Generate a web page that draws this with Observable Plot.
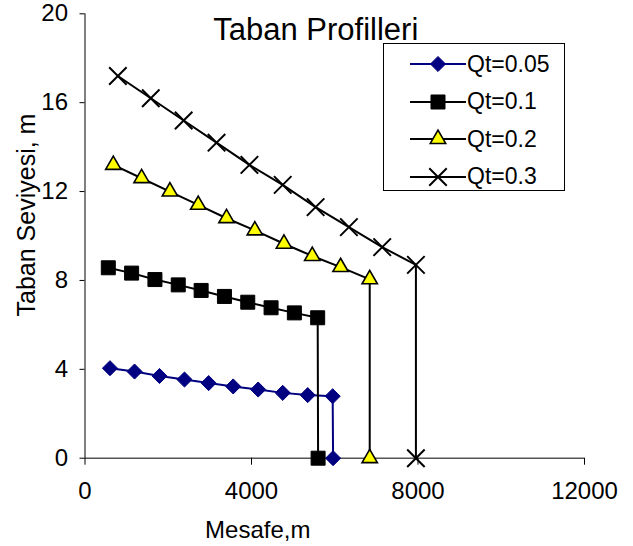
<!DOCTYPE html>
<html><head><meta charset="utf-8">
<script src="https://cdn.jsdelivr.net/npm/d3@7"></script>
<script src="https://cdn.jsdelivr.net/npm/@observablehq/plot@0.6"></script>
<style>
html,body{margin:0;padding:0;background:#fff;}
#wrap{position:relative;width:633px;height:546px;font-family:"Liberation Sans",Arial,sans-serif;}
#legend{position:absolute;left:383px;top:43px;width:182px;height:148px;border:1px solid #000;background:#fff;box-sizing:border-box;}
.row{position:absolute;left:0;height:30px;display:flex;align-items:center;}
.row span{font-size:23px;color:#000;margin-left:1px;}
</style></head><body><div id="wrap"></div>
<script>
// Data
const seriesNames = ["Qt=0.05", "Qt=0.1", "Qt=0.2", "Qt=0.3"];
const x005 = [600, 1190, 1790, 2390, 2970, 3560, 4160, 4750, 5350, 5950, 5960];
const y005 = [4.05, 3.9, 3.7, 3.54, 3.38, 3.23, 3.09, 2.94, 2.84, 2.79, 0];
const x01 = [560, 1120, 1680, 2240, 2790, 3350, 3910, 4470, 5030, 5590, 5600];
const y01 = [8.57, 8.33, 8.04, 7.8, 7.55, 7.28, 7.02, 6.77, 6.54, 6.32, 0];
const x02 = [680, 1360, 2040, 2720, 3400, 4080, 4780, 5460, 6140, 6840, 6840];
const y02 = [13.2, 12.6, 12.0, 11.4, 10.8, 10.25, 9.65, 9.1, 8.6, 8.05, 0];
const x03 = [790, 1580, 2370, 3160, 3950, 4750, 5540, 6340, 7140, 7950, 7950];
const y03 = [17.2, 16.2, 15.2, 14.2, 13.2, 12.3, 11.3, 10.4, 9.5, 8.7, 0];
const xTicks = [0, 4000, 8000, 12000];
const yTicks = [0, 4, 8, 12, 16, 20];
const titleText = "Taban Profilleri";
const xLabel = "Mesafe,m";
const yLabel = "Taban Seviyesi, m";

// Styles
const lineColors = ["#000080", "#000", "#000", "#000"];
const markFill = ["#000080", "#000", "#ffff00", "none"];
const markStroke = ["#000080", "#000", "#000", "#000"];
const symbols = ["diamond2", "square", "triangle", "times"];
const radii = [6.8, 7.9, 5.7, 8];
const markStrokeW = [1, 1, 1.6, 2];

const xs = [x005, x01, x02, x03];
const ys = [y005, y01, y02, y03];
const table = seriesNames.map((s, i) => xs[i].map((x, j) => ({series: s, x, y: ys[i][j]})));

const marks = [
  Plot.ruleY([0], {stroke: "#555", strokeWidth: 1.5}),
  Plot.ruleX([0], {stroke: "#000", strokeWidth: 1}),
  Plot.axisX({ticks: xTicks, tickSize: 7, tickPadding: 17, tickFormat: d => String(d), label: null, fontSize: 24}),
  Plot.axisY({ticks: yTicks, tickSize: 5, tickPadding: 12, tickFormat: d => String(d), label: null, fontSize: 24}),
];
table.forEach((data, i) => {
  marks.push(Plot.line(data, {x: "x", y: "y", stroke: lineColors[i], strokeWidth: 2}));
  marks.push(Plot.dot(data, {x: "x", y: "y", symbol: () => symbols[i], r: radii[i], fill: markFill[i], stroke: markStroke[i], strokeWidth: markStrokeW[i]}));
});
marks.push(Plot.text([titleText], {frameAnchor: "top", dx: -19, dy: 16, lineAnchor: "middle", textAnchor: "middle", fontSize: 31, fill: "#000"}));
marks.push(Plot.text([xLabel], {frameAnchor: "bottom", dx: -77, dy: 72, lineAnchor: "middle", textAnchor: "middle", fontSize: 24, fill: "#000"}));
marks.push(Plot.text([yLabel], {frameAnchor: "left", rotate: -90, dx: -58, dy: -21, lineAnchor: "middle", textAnchor: "middle", fontSize: 25, fill: "#000"}));

const chart = Plot.plot({
  width: 633,
  height: 546,
  marginLeft: 84.5,
  marginRight: 49,
  marginTop: 13.3,
  marginBottom: 88.3,
  x: {domain: [0, 12000]},
  y: {domain: [0, 20]},
  style: {fontFamily: "'Liberation Sans', Arial, sans-serif", fontSize: "24px", color: "#000", background: "#fff"},
  marks
});
const wrap = document.getElementById("wrap");
wrap.appendChild(chart);

// Legend
const legend = document.createElement("div");
legend.id = "legend";
const rowTops = [20, 57.5, 95, 132.5];
const symMap = {diamond2: d3.symbolDiamond2, square: d3.symbolSquare, triangle: d3.symbolTriangle, times: d3.symbolTimes};
seriesNames.forEach((name, i) => {
  const row = document.createElement("div");
  row.className = "row";
  row.style.top = (rowTops[i] - 15) + "px";
  const size = Math.PI * radii[i] * radii[i];
  const path = d3.symbol(symMap[symbols[i]], size)();
  row.innerHTML = `<svg width="82" height="30" style="display:block"><line x1="26" x2="82" y1="15" y2="15" stroke="${lineColors[i]}" stroke-width="2"/><path transform="translate(54,15)" d="${path}" fill="${markFill[i]}" stroke="${markStroke[i]}" stroke-width="${markStrokeW[i]}"/></svg><span>${name}</span>`;
  legend.appendChild(row);
});
wrap.appendChild(legend);
</script></body></html>
